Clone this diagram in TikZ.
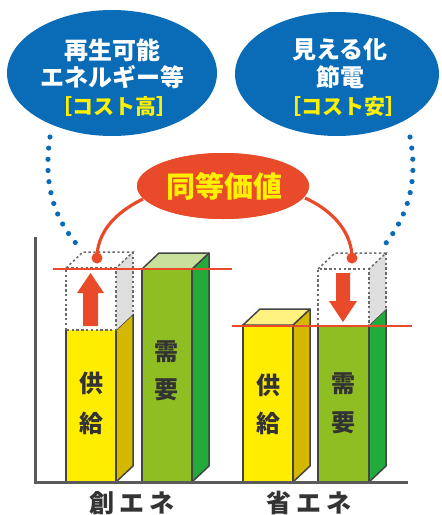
\documentclass[tikz,border=0pt]{standalone}
\usepackage{fontspec}
\newfontfamily\jp{Noto Sans CJK JP}
\usetikzlibrary{shapes.geometric}
\definecolor{cblue}{RGB}{10,108,182}
\definecolor{cred}{RGB}{232,74,42}
\definecolor{cytext}{RGB}{255,240,0}
\definecolor{cyfront}{RGB}{255,237,0}
\definecolor{cyside}{RGB}{212,184,0}
\definecolor{cytop}{RGB}{255,242,128}
\definecolor{cgfront}{RGB}{143,190,34}
\definecolor{cgside}{RGB}{34,170,58}
\definecolor{cgtop}{RGB}{200,224,155}
\definecolor{coutline}{RGB}{68,68,68}
\definecolor{caxis}{RGB}{90,90,90}
\definecolor{cghost}{RGB}{222,222,222}
\definecolor{cbartext}{RGB}{51,51,51}
\tikzset{
  barline/.style={draw=coutline,line width=0.75pt,line join=round},
  ghost/.style={draw=coutline!80,line width=0.75pt,dash pattern=on 1.2pt off 1.2pt},
  bubble/.style={ellipse,fill=cblue,draw=none,inner sep=0pt},
  redbubble/.style={ellipse,fill=cred,draw=none,inner sep=0pt},
  wtext/.style={text=white,font=\jp\bfseries\fontsize{12}{14}\selectfont,inner sep=0pt},
  ytext/.style={text=cytext,font=\jp\bfseries\fontsize{10.5}{12}\selectfont,inner sep=0pt},
  bartext/.style={text=cbartext,font=\jp\bfseries\fontsize{12}{14}\selectfont,inner sep=0pt},
  grouplabel/.style={text=cbartext,font=\jp\bfseries\fontsize{12.5}{14}\selectfont,inner sep=0pt},
  levelline/.style={draw=cred,line width=1pt},
  bluedots/.style={draw=cblue,line width=2.6pt,line cap=round,dash pattern=on 0pt off 5.6pt},
  redlink/.style={draw=cred,line width=1.6pt},
  reddot/.style={circle,fill=cred,inner sep=0pt,minimum size=5.5pt},
}
\begin{document}
\begin{tikzpicture}[x=0.5pt,y=-0.5pt]
\useasboundingbox (0,0) rectangle (441,515);

% axes
\draw[caxis,line width=1.5pt] (35,237) -- (35,482) -- (408,482);

% ---- left group: supply (yellow) ----
\fill[cyfront] (66,330) rectangle (116,482);
\draw[barline] (66,330) -- (66,482) -- (116,482) -- (116,330);
\filldraw[barline,fill=cyside] (116,330) -- (133,314) -- (133,466) -- (116,482) -- cycle;
% ghost box above
\fill[cghost] (116,268) -- (133,252) -- (133,314) -- (116,330) -- cycle;
\draw[ghost] (66,330) -- (66,268) -- (116,268) -- (116,330) -- cycle;
\draw[ghost] (66,268) -- (83,252) -- (133,252) -- (116,268);
\draw[ghost] (133,252) -- (133,314);

% ---- left group: demand (green) ----
\filldraw[barline,fill=cgfront] (142,269) rectangle (192,482);
\filldraw[barline,fill=cgside] (192,269) -- (209,253) -- (209,466) -- (192,482) -- cycle;
\filldraw[barline,fill=cgtop] (142,269) -- (159,253) -- (209,253) -- (192,269) -- cycle;

% ---- right group: supply (yellow) ----
\filldraw[barline,fill=cyfront] (243,325) rectangle (293,482);
\filldraw[barline,fill=cyside] (293,325) -- (310,309) -- (310,466) -- (293,482) -- cycle;
\filldraw[barline,fill=cytop] (243,325) -- (260,309) -- (310,309) -- (293,325) -- cycle;

% ---- right group: demand (green) ----
\fill[cgfront] (318,325) rectangle (369,482);
\draw[barline] (318,325) -- (318,482) -- (369,482) -- (369,325);
\filldraw[barline,fill=cgside] (369,325) -- (386,309) -- (386,466) -- (369,482) -- cycle;
\fill[cghost] (369,269) -- (386,253) -- (386,309) -- (369,325) -- cycle;
\draw[ghost] (318,325) -- (318,269) -- (369,269) -- (369,325);
\draw[ghost] (318,269) -- (335,253) -- (386,253) -- (369,269);
\draw[ghost] (386,253) -- (386,309);

% re-draw axis baseline on top
\draw[caxis,line width=1.5pt] (35,482) -- (408,482);

% level lines
\draw[levelline] (53,269) -- (232,269);
\draw[levelline] (232,326) -- (412,326);

% arrows
\fill[cred] (83,326) -- (83,293) -- (77,293) -- (90.5,273) -- (104,293) -- (98,293) -- (98,326) -- cycle;
\fill[cred] (336,273) -- (350,273) -- (350,301) -- (357,301) -- (343,322) -- (329,301) -- (336,301) -- cycle;

% bar texts
\node[bartext] (s1a) at (91,383) {供};
\node[bartext] (s1b) at (91,423) {給};
\node[bartext] (d1a) at (167,352) {需};
\node[bartext] (d1b) at (167,390) {要};
\node[bartext] (s2a) at (268,385) {供};
\node[bartext] (s2b) at (268,423) {給};
\node[bartext] (d2a) at (343,384) {需};
\node[bartext] (d2b) at (343,423) {要};

% group labels
\node[grouplabel] (lab1) at (132,503) {創\hspace{2.5pt}エ\hspace{2.5pt}ネ};
\node[grouplabel] (lab2) at (309,503) {省\hspace{2.5pt}エ\hspace{2.5pt}ネ};

% bubbles
\node[bubble,minimum width=105pt,minimum height=63pt] (bl) at (112,73) {};
\node[bubble,minimum width=102pt,minimum height=62pt] (br) at (337,74) {};

% blue dotted connectors
\coordinate (bl-end) at (80,248);
\coordinate (br-end) at (382,248);
\draw[bluedots] (50,137) .. controls (44,178) and (50,215) .. (bl-end);
\draw[bluedots] (410,137) .. controls (418,178) and (410,215) .. (br-end);

% red dots and links
\node[reddot] (dl) at (97,258) {};
\node[reddot] (dr) at (352,258) {};
\node[redbubble,minimum width=86pt,minimum height=33pt] (rb) at (223,186) {};
\draw[redlink] (143,199) .. controls (112,214) and (97,235) .. (dl.center);
\draw[redlink] (305,198) .. controls (336,212) and (352,235) .. (dr.center);
\node[redbubble,minimum width=86pt,minimum height=33pt] (rb2) at (223,186) {};
\node[text=cytext,font=\jp\bfseries\fontsize{14.5}{16}\selectfont,inner sep=0pt] (rbt) at (224,186) {同等価値};

% bubble texts
\node[wtext] (bl1) at (112,50) {再生可能};
\node[wtext] (bl2) at (112,77) {エネルギー等};
\node[ytext] (bl3) at (115,107) {［コスト高］};
\node[wtext] (br1) at (340,50) {見える化};
\node[wtext] (br2) at (340,77) {節電};
\node[ytext] (br3) at (343,107) {［コスト安］};
\end{tikzpicture}
\end{document}
